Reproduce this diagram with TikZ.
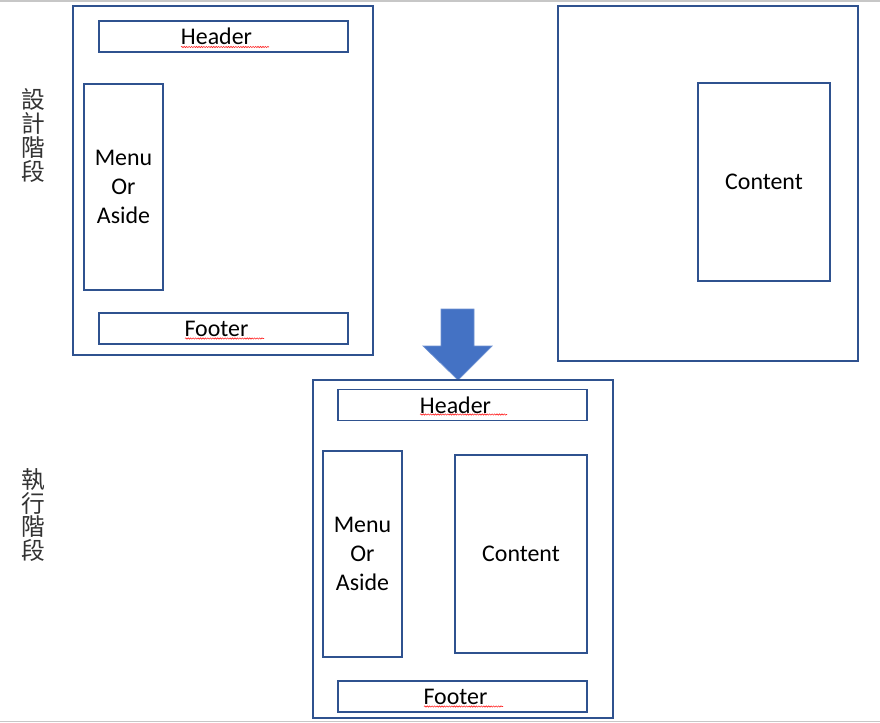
\documentclass[tikz,border=0pt]{standalone}
\usepackage{fontspec}
\usepackage{tikz}
\usepackage{xcolor}
\usetikzlibrary{positioning,calc,decorations.pathmorphing}
\setmainfont{Carlito}
\newfontfamily\cjk{Noto Sans CJK TC}
\definecolor{frameblue}{RGB}{47,82,143}
\definecolor{arrowblue}{RGB}{68,114,196}
\definecolor{arrowedge}{RGB}{110,145,210}

\begin{document}
\begin{tikzpicture}[
    frame/.style={rectangle, draw=frameblue, line width=0.6pt, inner sep=0pt},
    page/.style={frame, minimum width=6cm},
    bar/.style={frame, minimum width=4.98cm, minimum height=0.62cm, font=\fontsize{13.6}{16}\selectfont, execute at end node={\hspace*{0.28cm}}},
    side/.style={frame, minimum width=1.58cm, minimum height=4.12cm, align=center, font=\fontsize{13.6}{16.4}\selectfont},
    main/.style={frame, minimum width=2.64cm, minimum height=3.96cm, font=\fontsize{13.6}{16}\selectfont},
    stage/.style={align=center, text=black!80, font=\cjk\fontsize{13.5}{13.6}\selectfont},
    squiggle/.style={draw=red!85, line width=0.35pt, decorate, decoration={snake, amplitude=0.35pt, segment length=1.4pt}},
    edge/.style={draw=black!22, line width=0.8pt}
]
\useasboundingbox (0,0) rectangle (17.6,-14.46);

% screen edges
\draw[edge] (0,-0.02) -- (17.6,-0.02);
\draw[edge] (0,-14.43) -- (17.6,-14.43);

% design stage
\node[stage] (design) at (0.66,-2.71) {設\\計\\階\\段};
\node[page, minimum height=6.98cm] (pageA) at (4.46,-3.61) {};
\node[bar] (hdrA) at (4.47,-0.73) {Header};
\node[side] (menuA) at (2.47,-3.74) {Menu\\Or\\Aside};
\node[bar] (ftrA) at (4.47,-6.57) {Footer};

\node[page, minimum height=7.1cm] (pageB) at (14.16,-3.67) {};
\node[main] (contA) at (15.28,-3.64) {Content};

% arrow
\fill[arrowblue, draw=arrowedge, line width=0.4pt]
    (8.82,-6.18) -- (9.48,-6.18) -- (9.48,-6.92) -- (9.84,-6.92)
    -- (9.16,-7.60) -- (8.46,-6.92) -- (8.82,-6.92) -- cycle;

% run stage
\node[stage] (run) at (0.66,-10.30) {執\\行\\階\\段};
\node[page, minimum height=6.76cm] (pageC) at (9.26,-10.98) {};
\node[bar] (hdrB) at (9.25,-8.10) {Header};
\node[side] (menuB) at (7.25,-11.08) {Menu\\Or\\Aside};
\node[main] (contB) at (10.42,-11.08) {Content};
\node[bar] (ftrB) at (9.25,-13.93) {Footer};

% spell check marks
\draw[squiggle] ($(hdrA.center)+(-0.85,-0.21)$) -- ++(1.76,0);
\draw[squiggle] ($(ftrA.center)+(-0.77,-0.2)$) -- ++(1.58,0);
\draw[squiggle] ($(hdrB.center)+(-0.85,-0.19)$) -- ++(1.74,0);
\draw[squiggle] ($(ftrB.center)+(-0.77,-0.2)$) -- ++(1.58,0);

\end{tikzpicture}
\end{document}
